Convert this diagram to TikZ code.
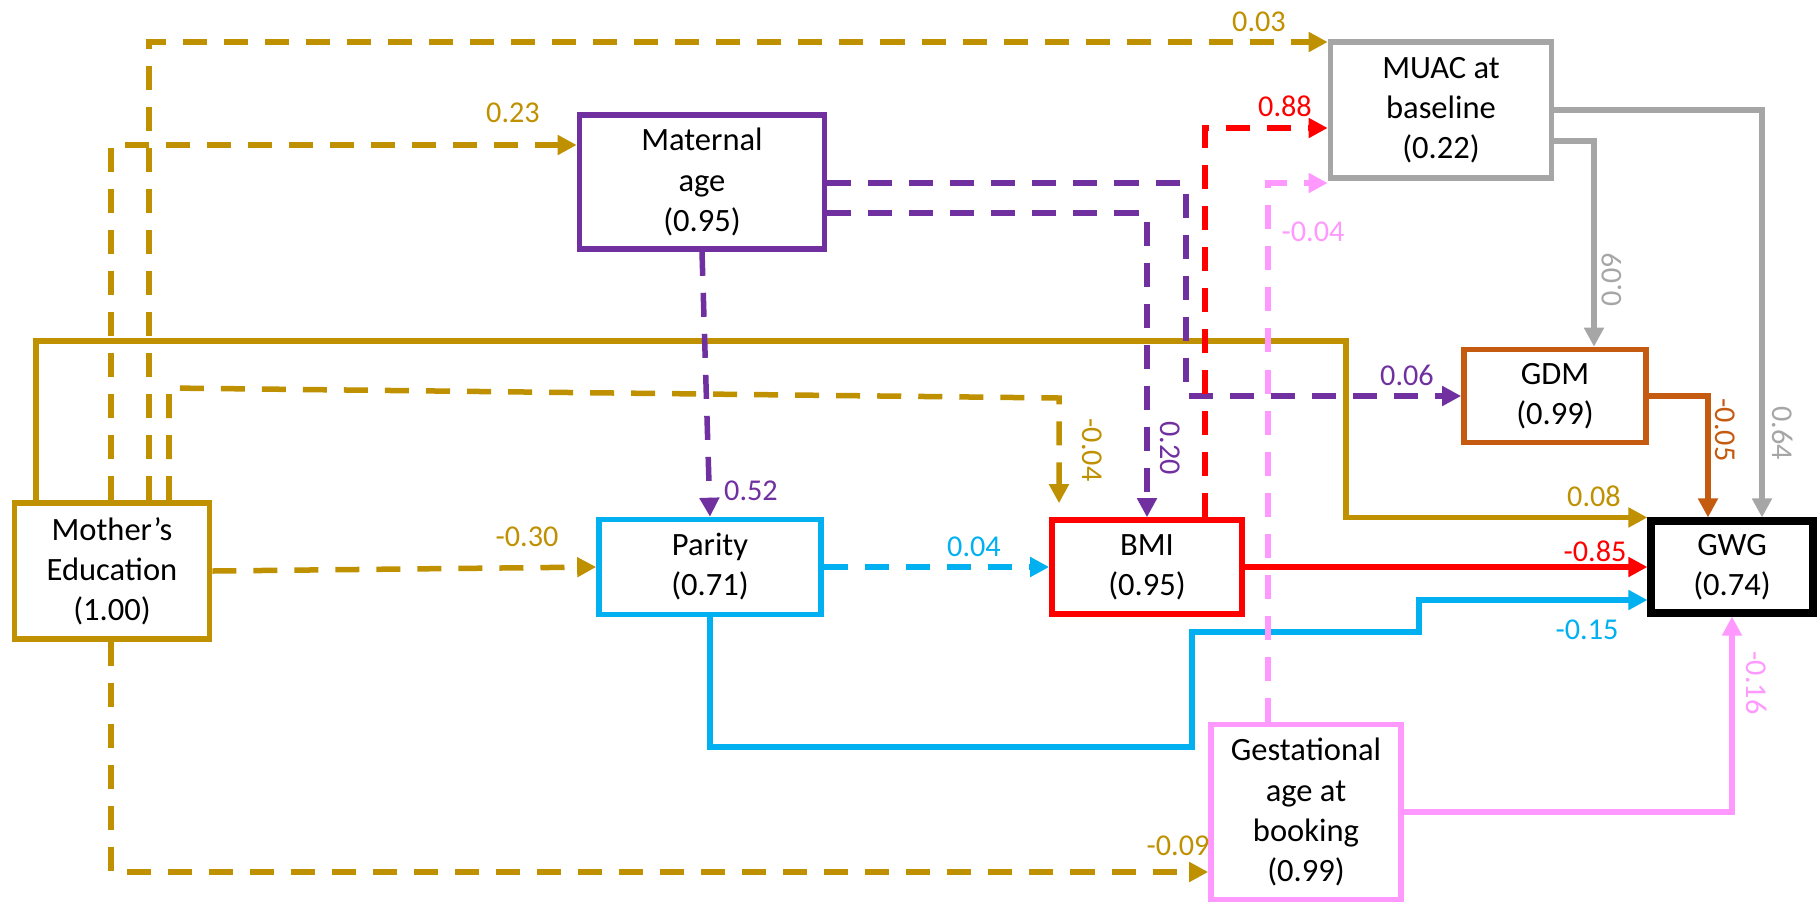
\documentclass[tikz,border=0pt]{standalone}
\usepackage{fontspec}
\setmainfont{Carlito}
\usepackage{tikz}
\usetikzlibrary{arrows.meta}
\definecolor{pathgold}{HTML}{BF9000}
\definecolor{pathpurple}{HTML}{7030A0}
\definecolor{pathcyan}{HTML}{00B0F0}
\definecolor{pathred}{HTML}{FF0000}
\definecolor{pathgrey}{HTML}{A6A6A6}
\definecolor{pathorange}{HTML}{C55A11}
\definecolor{pathpink}{HTML}{FF99FF}

\begin{document}
\begin{tikzpicture}[
    x=0.01cm, y=-0.01cm,
    var/.style={draw,line width=0.055cm,fill=white,align=center,inner sep=0pt,font=\fontsize{9.25}{11.4}\selectfont},
    coef/.style={font=\fontsize{8.6}{10}\selectfont,inner sep=0pt},
    link/.style={line width=0.055cm,-{Triangle[length=0.19cm,width=0.19cm]}},
    dsh/.style={dash pattern=on 0.24cm off 0.17cm}
  ]
    \useasboundingbox (0,0) rectangle (1820,905);

    \node[var,draw=pathgold,minimum width=1.95cm,minimum height=1.36cm] (edu) at (112,571) {Mother’s\\Education\\(1.00)};
    \node[var,draw=pathpurple,minimum width=2.45cm,minimum height=1.34cm] (mat) at (702,182) {Maternal\\age\\(0.95)};
    \node[var,draw=pathcyan,minimum width=2.22cm,minimum height=0.95cm] (par) at (710,567) {Parity\\(0.71)};
    \node[var,draw=pathred,minimum width=1.9cm,minimum height=0.94cm] (bmi) at (1147,567) {BMI\\(0.95)};
    \node[var,draw=black,line width=0.08cm,minimum width=1.61cm,minimum height=0.91cm] (gwg) at (1732,567) {GWG\\(0.74)};
    \node[var,draw=pathgrey,minimum width=2.21cm,minimum height=1.36cm] (muac) at (1441,110) {MUAC at\\baseline\\(0.22)};
    \node[var,draw=pathorange,minimum width=1.82cm,minimum height=0.93cm] (gdm) at (1555,396) {GDM\\(0.99)};
    \node[var,draw=pathpink,minimum width=1.9cm,minimum height=1.75cm] (gest) at (1306,812) {Gestational\\age at\\booking\\(0.99)};

    % mother's education
    \draw[link,dsh,pathgold] (149,0 |- edu.north) |- (muac.west |- 0,42);
    \draw[link,dsh,pathgold] (111,0 |- edu.north) |- (mat.west |- 0,145);
    \draw[link,pathgold] (36,0 |- edu.north) |- (1346,341) |- (gwg.north west);
    \draw[link,dsh,pathgold,shorten >=0.14cm] (169,0 |- edu.north) -- (169,388) -- (1059,398) -- (1059,0 |- bmi.north);
    \draw[link,dsh,pathgold] (edu.east) -- (par.west);
    \draw[link,dsh,pathgold] (111,0 |- edu.south) |- (gest.west |- 0,872);

    % maternal age
    \draw[link,dsh,pathpurple] (mat.south) -- (par.north);
    \draw[link,dsh,pathpurple] (mat.east |- 0,213) -| (bmi.north);
    \draw[link,dsh,pathpurple] (mat.east |- 0,183) -| (1186,396) -- (gdm.west);

    % parity, bmi, gestational age
    \draw[link,dsh,pathcyan] (par.east) -- (bmi.west);
    \draw[link,pathcyan] (par.south) |- (1192,747) |- (1419,632) |- (gwg.west |- 0,600);
    \draw[link,pathred] (bmi.east) -- (gwg.west);
    \draw[link,dsh,pathred] (1205,0 |- bmi.north) |- (muac.west |- 0,128);
    \draw[link,dsh,pathpink] (1268,0 |- gest.north) |- (muac.west |- 0,183);
    \draw[link,pathpink] (gest.east) -| (gwg.south);

    % muac, gdm
    \draw[link,pathgrey] (muac.east) -| (1762,0 |- gwg.north);
    \draw[link,pathgrey] (muac.east |- 0,141) -| (1594,0 |- gdm.north);
    \draw[link,pathorange] (gdm.east) -| (1708,0 |- gwg.north);

    % coefficients
    \node[coef,text=pathgold] (c1) at (1259,22) {0.03};
    \node[coef,text=pathgold] (c2) at (513,113) {0.23};
    \node[coef,text=pathgold] (c3) at (527,537) {-0.30};
    \node[coef,text=pathgold,rotate=-90] (c4) at (1092,450) {-0.04};
    \node[coef,text=pathgold] (c5) at (1178,846) {-0.09};
    \node[coef,text=pathgold] (c6) at (1594,496) {0.08};
    \node[coef,text=pathpurple] (c7) at (751,491) {0.52};
    \node[coef,text=pathpurple,rotate=-90] (c8) at (1170,448) {0.20};
    \node[coef,text=pathpurple] (c9) at (1407,375) {0.06};
    \node[coef,text=pathcyan] (c10) at (974,547) {0.04};
    \node[coef,text=pathcyan] (c11) at (1587,630) {-0.15};
    \node[coef,text=pathred] (c12) at (1595,551) {-0.85};
    \node[coef,text=pathred] (c13) at (1285,106) {0.88};
    \node[coef,text=pathpink] (c14) at (1313,232) {-0.04};
    \node[coef,text=pathpink,rotate=-90] (c15) at (1757,683) {-0.16};
    \node[coef,text=pathgrey,rotate=90] (c16) at (1612,280) {0.09};
    \node[coef,text=pathgrey,rotate=-90] (c17) at (1783,433) {0.64};
    \node[coef,text=pathorange,rotate=-90] (c18) at (1725,430) {-0.05};
  \end{tikzpicture}
\end{document}
